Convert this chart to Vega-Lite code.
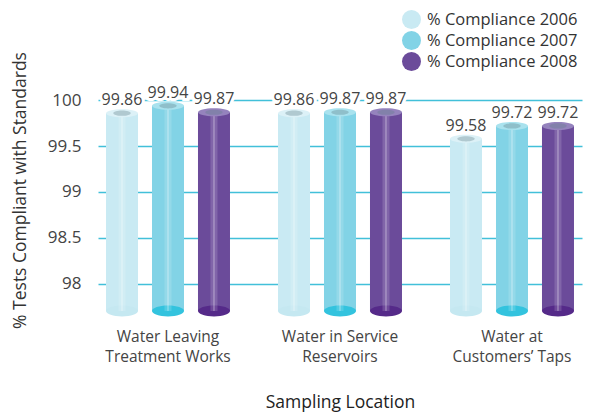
{
  "$schema": "https://vega.github.io/schema/vega-lite/v6.json",
  "width": 517,
  "height": 229,
  "autosize": "none",
  "padding": {"left": 98, "top": 82, "right": 0, "bottom": 101},
  "background": "white",
  "config": {"view": {"stroke": null}, "font": "Open Sans"},
  "data": {
    "values": [
      {"location": "Water Leaving|Treatment Works", "year": "2006", "value": 99.86},
      {"location": "Water Leaving|Treatment Works", "year": "2007", "value": 99.94},
      {"location": "Water Leaving|Treatment Works", "year": "2008", "value": 99.87},
      {"location": "Water in Service|Reservoirs", "year": "2006", "value": 99.86},
      {"location": "Water in Service|Reservoirs", "year": "2007", "value": 99.87},
      {"location": "Water in Service|Reservoirs", "year": "2008", "value": 99.87},
      {"location": "Water at|Customers’ Taps", "year": "2006", "value": 99.58},
      {"location": "Water at|Customers’ Taps", "year": "2007", "value": 99.72},
      {"location": "Water at|Customers’ Taps", "year": "2008", "value": 99.72}
    ]
  },
  "encoding": {
    "x": {
      "field": "location", "type": "nominal", "sort": null,
      "scale": {"range": [0, 484], "paddingInner": 0.2, "paddingOuter": 0.007},
      "axis": {
        "labelExpr": "split(datum.label, '|')", "labelAngle": 0, "labelFontSize": 15.5,
        "labelColor": "#444", "labelPadding": 18, "labelLineHeight": 20,
        "ticks": false, "domain": false, "grid": false,
        "title": "Sampling Location", "titleFontSize": 17.5, "titleFontWeight": "normal",
        "titleColor": "#222", "titleY": 91, "titleBaseline": "middle"
      }
    },
    "xOffset": {
      "field": "year", "type": "nominal",
      "scale": {"paddingInner": 0.304, "paddingOuter": 0.148}
    },
    "y": {
      "field": "value", "type": "quantitative",
      "scale": {"domain": [97.7, 100.2], "zero": false, "nice": false},
      "axis": {
        "values": [98, 98.5, 99, 99.5, 100], "format": "~g",
        "labelFontSize": 17, "labelColor": "#444", "labelPadding": 17,
        "ticks": false, "domain": false, "gridColor": "#42c0d9", "gridWidth": 1.5,
        "title": "% Tests Compliant with Standards", "titleFontSize": 17.5,
        "titleFontWeight": 500, "titleColor": "#333",
        "titleX": -78, "titleY": 108, "titleBaseline": "middle", "titleAlign": "center"
      }
    }
  },
  "layer": [
    {
      "mark": {"type": "bar"},
      "encoding": {
        "y2": {"datum": 97.7},
        "color": {
          "field": "year", "type": "nominal",
          "scale": {"domain": ["2006", "2007", "2008"], "range": ["#c9eaf3", "#82d3e6", "#6b4b9a"]},
          "legend": {
            "title": null, "orient": "none", "legendX": 303, "legendY": -73,
            "symbolType": "circle", "symbolSize": 360, "labelFontSize": 16.5,
            "labelColor": "#333", "rowPadding": 1, "labelOffset": 5,
            "labelExpr": "'% Compliance ' + datum.label"
          }
        }
      }
    },
    {
      "mark": {"type": "point", "filled": true, "size": 1024, "opacity": 1,
               "shape": "M -1 0 A 1 0.34 0 1 0 1 0 A 1 0.34 0 1 0 -1 0 Z"},
      "encoding": {
        "y": {"datum": 97.7},
        "fill": {
          "field": "year", "type": "nominal",
          "scale": {"domain": ["2006", "2007", "2008"], "range": ["#c5e8f1", "#33c3de", "#552a89"]},
          "legend": null
        }
      }
    },
    {
      "mark": {"type": "rule", "xOffset": 12.5, "color": "white", "opacity": 0.15, "strokeWidth": 7},
      "encoding": {"y2": {"datum": 97.7}}
    },
    {
      "mark": {"type": "rule", "xOffset": 9, "color": "white", "opacity": 0.45, "strokeWidth": 1},
      "encoding": {"y2": {"datum": 97.7}}
    },
    {
      "mark": {"type": "point", "filled": true, "size": 1024, "opacity": 1,
               "shape": "M -1 0 A 1 0.25 0 1 0 1 0 A 1 0.25 0 1 0 -1 0 Z"},
      "encoding": {
        "fill": {
          "field": "year", "type": "nominal",
          "scale": {"domain": ["2006", "2007", "2008"], "range": ["#dcf1f7", "#a9e2ee", "#9583bd"]},
          "legend": null
        }
      }
    },
    {
      "mark": {"type": "point", "filled": true, "size": 300, "opacity": 0.35, "color": "#5f7f88",
               "shape": "M -1 0 A 1 0.3 0 1 0 1 0 A 1 0.3 0 1 0 -1 0 Z"},
      "encoding": {}
    },
    {
      "mark": {"type": "text", "dy": -13, "baseline": "middle", "fontSize": 16,
               "fill": "white", "stroke": "white", "strokeWidth": 6},
      "encoding": {"text": {"field": "value", "type": "quantitative", "format": ".2f"}}
    },
    {
      "mark": {"type": "text", "dy": -13, "baseline": "middle", "fontSize": 16, "fill": "#444"},
      "encoding": {"text": {"field": "value", "type": "quantitative", "format": ".2f"}}
    }
  ],
  "resolve": {"scale": {"fill": "independent"}}
}
